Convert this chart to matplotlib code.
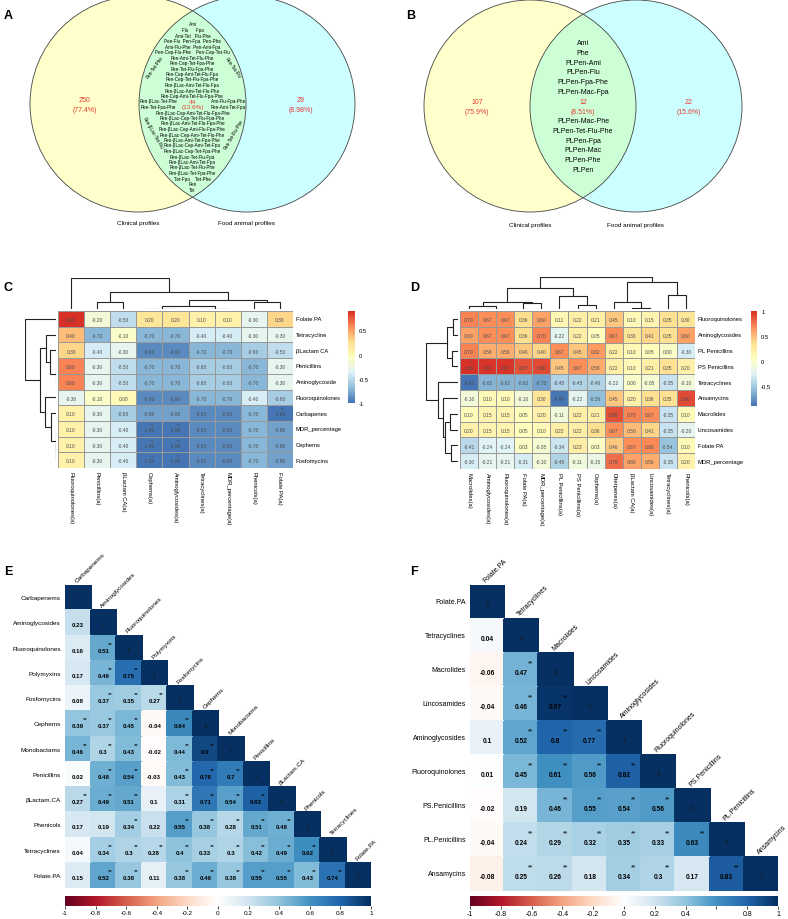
#!/usr/bin/env python3
"""Six-panel figure: two Venn diagrams, two clustered heatmaps, two corrplots."""

import numpy as np
import matplotlib

matplotlib.use("Agg")
import matplotlib.pyplot as plt
from matplotlib.colors import LinearSegmentedColormap, ListedColormap
from matplotlib.patches import Circle

plt.rcParams["font.family"] = ["Liberation Sans", "DejaVu Sans"]

# ---------------------------------------------------------------- data
venn_sets = ["Clinical profiles", "Food animal profiles"]
venn_a_counts = [250, 44, 29]
venn_b_counts = [107, 12, 22]

venn_a_upper = [
    "Ami", "Flu      Fpa", "Ami-Tet   Flu-Phe", "Pen-Flu  Pen-Fpa  Pen-Phe",
    "Ami-Flu-Phe  Pen-Ami-Fpa", "Pen-Cep-Flu-Phe    Pen-Cep-Tet-Flu",
    "Pen-Ami-Tet-Flu-Phe", "Pen-Cep-Tet-Fpa-Phe", "Pen-Tet-Flu-Fpa-Phe",
    "Pen-Cep-Ami-Tet-Flu-Fpa", "Pen-Cep-Tet-Flu-Fpa-Phe",
    "Pen-βLac-Ami-Tet-Flu-Fpa", "Pen-βLac-Ami-Tet-Flu-Phe",
    "Pen-Cep-Ami-Tet-Flu-Fpa-Phe",
]
venn_a_beside = [("Pen-βLac-Tet-Phe", "Ami-Flu-Fpa-Phe"),
                 ("Pen-Tet-Fpa-Phe", "Pen-Ami-Tet-Fpa")]
venn_a_lower = [
    "Pen-βLac-Cep-Ami-Tet-Flu-Fpa-Phe", "Pen-βLac-Cep-Tet-Flu-Fpa-Phe",
    "Pen-βLac-Ami-Tet-Flu-Fpa-Phe", "Pen-βLac-Cep-Ami-Flu-Fpa-Phe",
    "Pen-βLac-Cep-Ami-Tet-Flu-Phe", "Pen-βLac-Ami-Tet-Fpa-Phe",
    "Pen-βLac-Cep-Ami-Tet-Fpa", "Pen-βLac-Cep-Tet-Fpa-Phe",
    "Pen-βLac-Tet-Flu-Fpa", "Pen-βLac-Ami-Tet-Fpa", "Pen-βLac-Tet-Flu-Phe",
    "Pen-βLac-Tet-Fpa-Phe", "Tet-Fpa    Tet-Phe", "Pen", "Tet",
]
venn_a_rim = ["Pen-Tet-Phe", "Pen-Tet-Flu", "Pen-βLac-Tet-Flu", "Pen-Tet-Flu-Phe"]
venn_b_upper = ["Ami", "Phe", "PLPen-Ami", "PLPen-Flu", "PLPen-Fpa-Phe", "PLPen-Mac-Fpa"]
venn_b_lower = ["PLPen-Mac-Phe", "PLPen-Tet-Flu-Phe", "PLPen-Fpa", "PLPen-Mac",
                "PLPen-Phe", "PLPen"]

# panel C heatmap
c_rows = ["Folate PA", "Tetracycline", "βLactam CA", "Penicillins", "Aminoglycoside",
          "Fluoroquinolones", "Carbapenes", "MDR_percentage", "Cephems", "Fosfomycins"]
c_cols = ["Fluoroquinolones(a)", "Penicillins(a)", "βLactam CA(a)", "Cephems(a)",
          "Aminoglycosides(a)", "Tetracyclines(a)", "MDR_percentage(a)", "Phenicols(a)",
          "Folate PA(a)"]
c_values = [
    [0.90, -0.20, -0.50, 0.20, 0.20, 0.10, 0.10, -0.30, 0.30],
    [0.40, -0.70, -0.10, -0.70, -0.70, -0.40, -0.40, -0.30, -0.30],
    [0.30, -0.40, -0.30, -0.90, -0.90, -0.70, -0.70, -0.60, -0.50],
    [0.60, -0.30, -0.50, -0.70, -0.70, -0.60, -0.60, -0.70, -0.30],
    [0.60, -0.30, -0.50, -0.70, -0.70, -0.60, -0.60, -0.70, -0.30],
    [-0.30, -0.10, 0.00, -0.90, -0.90, -0.70, -0.70, -0.40, -0.60],
    [0.10, -0.30, -0.60, -0.80, -0.80, -0.90, -0.90, -0.70, -1.00],
    [0.10, -0.30, -0.40, -1.00, -1.00, -0.90, -0.90, -0.70, -0.80],
    [0.10, -0.30, -0.40, -1.00, -1.00, -0.90, -0.90, -0.70, -0.80],
    [0.10, -0.30, -0.40, -1.00, -1.00, -0.90, -0.90, -0.70, -0.80],
]
c_stars = [(6, 8), (7, 3), (7, 4), (8, 3), (8, 4), (9, 3), (9, 4)]
# dendrograms: (child a, child b, merge height in px)
c_col_tree = [(3, 4, 0), (5, 6, 0), (9, 10, 3.3), (7, 8, 7.3), (11, 12, 8.7),
              (1, 2, 6.7), (14, 13, 16.7), (0, 15, 31)]
c_row_tree = [(8, 9, 0), (7, 10, 0), (6, 11, 5.3), (5, 12, 11.3), (3, 4, 0),
              (2, 14, 5.7), (1, 15, 10.3), (16, 13, 16.3), (0, 17, 31)]

# panel D heatmap
d_rows = ["Fluoroquinolones", "Aminoglycosides", "PL Penicillins", "PS Penicillins",
          "Tetracyclines", "Ansamycins", "Macrolides", "Lincosamides", "Folate PA",
          "MDR_percentage"]
d_cols = ["Macrolides(a)", "Aminoglycosides(a)", "Fluoroquinolones(a)", "Folate PA(a)",
          "MDR_percentage(a)", "PL Penicillins(a)", "PS Penicillins(a)", "Cephems(a)",
          "Diterpenes(a)", "βLactam CA(a)", "Lincosamides(a)", "Tetracyclines(a)",
          "Phenicols(a)"]
d_values = [
    [0.70, 0.67, 0.67, 0.36, 0.60, 0.11, 0.22, 0.21, 0.45, 0.10, 0.15, 0.35, 0.30],
    [0.60, 0.67, 0.67, 0.36, 0.70, -0.22, 0.22, 0.05, 0.67, 0.30, 0.41, 0.35, 0.60],
    [0.70, 0.56, 0.56, 0.46, 0.40, 0.67, 0.45, 0.62, 0.22, 0.10, 0.05, 0.00, -0.30],
    [1.00, 0.97, 0.97, 0.87, 0.90, 0.45, 0.67, 0.56, 0.22, 0.10, 0.21, 0.35, 0.20],
    [-0.90, -0.62, -0.62, -0.62, -0.70, -0.45, -0.45, -0.46, -0.22, 0.00, -0.05, -0.35, -0.10],
    [-0.10, 0.10, 0.10, -0.10, 0.30, -0.89, -0.22, -0.56, 0.45, 0.20, 0.36, 0.35, 0.90],
    [0.10, 0.15, 0.15, 0.05, 0.20, -0.11, 0.22, 0.21, 0.88, 0.70, 0.67, -0.35, 0.10],
    [0.20, 0.15, 0.15, 0.05, 0.10, 0.22, 0.22, 0.36, 0.67, 0.50, 0.41, -0.35, -0.20],
    [-0.41, -0.24, -0.24, 0.03, -0.05, -0.34, 0.23, 0.03, 0.46, 0.67, 0.68, -0.54, 0.10],
    [-0.30, -0.21, -0.21, -0.31, -0.10, -0.45, -0.11, -0.15, 0.78, 0.60, 0.56, -0.35, 0.20],
]
d_stars = [(3, 0)]
d_col_tree = [(1, 2, 0), (0, 13, 3.3), (3, 4, 6), (14, 15, 7.3), (6, 7, 4.3),
              (5, 17, 13.3), (16, 18, 20.7), (9, 10, 1.3), (8, 20, 7.3),
              (11, 12, 14), (21, 22, 27.3), (19, 23, 31.7)]
d_row_tree = [(0, 1, 5), (2, 3, 6), (10, 11, 11), (6, 7, 8), (8, 9, 7),
              (13, 14, 13), (5, 15, 15), (4, 16, 20), (12, 17, 32)]

# panel E corrplot (lower triangle, row by row)
e_labels = ["Carbapenems", "Aminoglycosides", "Fluoroquinolones", "Polymyxins",
            "Fosfomycins", "Cephems", "Monobactams", "Penicillins", "βLactam.CA",
            "Phenicols", "Tetracyclines", "Folate.PA"]
e_lower = [
    [],
    [0.23],
    [0.16, 0.51],
    [0.17, 0.46, 0.75],
    [0.08, 0.37, 0.35, 0.27],
    [0.39, 0.37, 0.45, -0.04, 0.64],
    [0.46, 0.3, 0.43, -0.02, 0.44, 0.9],
    [0.02, 0.48, 0.54, -0.03, 0.43, 0.78, 0.7],
    [0.27, 0.49, 0.51, 0.1, 0.31, 0.71, 0.54, 0.82],
    [0.17, 0.19, 0.34, 0.22, 0.55, 0.38, 0.28, 0.51, 0.48],
    [0.04, 0.34, 0.3, 0.28, 0.4, 0.33, 0.3, 0.42, 0.49, 0.62],
    [0.15, 0.52, 0.38, 0.11, 0.38, 0.49, 0.38, 0.55, 0.55, 0.43, 0.74],
]
e_sig = [
    [],
    [0],
    [0, 1],
    [0, 1, 1],
    [0, 1, 1, 1],
    [1, 1, 1, 0, 1],
    [1, 1, 1, 0, 1, 1],
    [0, 1, 1, 0, 1, 1, 1],
    [1, 1, 1, 0, 1, 1, 1, 1],
    [0, 0, 1, 0, 1, 1, 1, 1, 1],
    [0, 1, 1, 1, 1, 1, 1, 1, 1, 1],
    [0, 1, 1, 0, 1, 1, 1, 1, 1, 1, 1],
]

# panel F corrplot
f_labels = ["Folate.PA", "Tetracyclines", "Macrolides", "Lincosamides",
            "Aminoglycosides", "Fluoroquinolones", "PS.Penicillins", "PL.Penicillins",
            "Ansamycins"]
f_lower = [
    [],
    [0.04],
    [-0.06, 0.47],
    [-0.04, 0.46, 0.97],
    [0.1, 0.52, 0.8, 0.77],
    [0.01, 0.45, 0.61, 0.56, 0.82],
    [-0.02, 0.19, 0.46, 0.55, 0.54, 0.56],
    [-0.04, 0.24, 0.29, 0.32, 0.35, 0.33, 0.63],
    [-0.08, 0.25, 0.26, 0.18, 0.34, 0.3, 0.17, 0.83],
]
f_sig = [
    [],
    [0],
    [0, 1],
    [0, 1, 1],
    [0, 1, 1, 1],
    [0, 1, 1, 1, 1],
    [0, 0, 1, 1, 1, 1],
    [0, 1, 1, 1, 1, 1, 1],
    [0, 1, 1, 0, 1, 1, 0, 1],
]

cbar_ticks = [-1, -0.8, -0.6, -0.4, -0.2, 0, 0.2, 0.4, 0.6, 0.8, 1]

# ---------------------------------------------------------------- style
W, H = 788, 920
RED = "#e53935"
PH_CMAP = ListedColormap(LinearSegmentedColormap.from_list(
    "ph", ["#4575B4", "#91BFDB", "#E0F3F8", "#FFFFBF", "#FEE090", "#FC8D59", "#D73027"]
)(np.linspace(0, 1, 100)))
RDBU = LinearSegmentedColormap.from_list(
    "rdbu", ["#67001F", "#B2182B", "#D6604D", "#F4A582", "#FDDBC7", "#FFFFFF",
             "#D1E5F0", "#92C5DE", "#4393C3", "#2166AC", "#053061"], N=200)

fig = plt.figure(figsize=(W / 100, H / 100), dpi=100)
base = fig.add_axes([0, 0, 1, 1])
base.set_xlim(0, W)
base.set_ylim(H, 0)
base.axis("off")


def px_axes(x0, y0, x1, y1):
    """Axes placed by pixel box (top-left origin)."""
    return fig.add_axes([x0 / W, 1 - y1 / H, (x1 - x0) / W, (y1 - y0) / H])


def pct(c, total):
    return f"({c / total * 100:.3g}%)"


def draw_venn(cx1, cx2, cy, r, counts):
    base.add_patch(Circle((cx1, cy), r, facecolor="yellow", alpha=0.2, lw=0))
    base.add_patch(Circle((cx2, cy), r, facecolor="cyan", alpha=0.2, lw=0))
    for cx in (cx1, cx2):
        base.add_patch(Circle((cx, cy), r, fill=False, edgecolor="#444444", lw=0.6))
    total = sum(counts)
    mid = (cx1 + cx2) / 2
    sides = [(cx1 - r + cx2 - r) / 2, (cx1 + r + cx2 + r) / 2]
    for x, c in zip(sides, [counts[0], counts[2]]):
        base.text(x, cy - 5, str(c), color=RED, fontsize=5, ha="center", va="center")
        base.text(x, cy + 5, pct(c, total), color=RED, fontsize=5, ha="center", va="center")
    base.text(cx1, cy + 118, venn_sets[0], fontsize=4.6, ha="center", va="center")
    base.text(cx2, cy + 118, venn_sets[1], fontsize=4.6, ha="center", va="center")
    return mid, total


# ---- panel A
mid, total = draw_venn(138, 247, 105, 108, venn_a_counts)
step = 5.5
fs = 3.3
y = 25 - step
for line in venn_a_upper:
    y += step
    base.text(mid, y, line, fontsize=fs, ha="center", va="center")
count_text = [str(venn_a_counts[1]), pct(venn_a_counts[1], total)]
for (left, right), ctext in zip(venn_a_beside, count_text):
    y += step
    base.text(mid - 34, y, left, fontsize=fs, ha="center", va="center")
    base.text(mid + 36, y, right, fontsize=fs, ha="center", va="center")
    base.text(mid, y, ctext, color=RED, fontsize=4.6, ha="center", va="center")
for line in venn_a_lower:
    y += step
    base.text(mid, y, line, fontsize=fs, ha="center", va="center")
for (dx, dy, rot), txt in zip([(-38, -37, 55), (40, -37, -55), (-40, 28, -60),
                               (41, 30, 60)], venn_a_rim):
    base.text(mid + dx, 105 + dy, txt, fontsize=fs, rotation=rot,
              ha="center", va="center")

# ---- panel B
mid, total = draw_venn(530, 636, 107, 106, venn_b_counts)
step = 9.7
y = 107 - 5 - (len(venn_b_upper) + 1) * step
for line in venn_b_upper:
    y += step
    base.text(mid, y, line, fontsize=5, ha="center", va="center")
base.text(mid, 102, str(venn_b_counts[1]), color=RED, fontsize=5, ha="center", va="center")
base.text(mid, 112, pct(venn_b_counts[1], total), color=RED, fontsize=5,
          ha="center", va="center")
y = 112
for line in venn_b_lower:
    y += step
    base.text(mid, y, line, fontsize=5, ha="center", va="center")


# ---------------------------------------------------------------- heatmaps
def draw_tree(ax, merges, n, orient):
    pos = {i: i + 0.5 for i in range(n)}
    hgt = {i: 0.0 for i in range(n)}
    for k, (a, b, h) in enumerate(merges):
        xs = [pos[a], pos[a], pos[b], pos[b]]
        ys = [hgt[a], h, h, hgt[b]]
        if orient == "top":
            ax.plot(xs, ys, color="#222222", lw=0.8, solid_capstyle="butt")
        else:
            ax.plot(ys, xs, color="#222222", lw=0.8, solid_capstyle="butt")
        pos[n + k] = (pos[a] + pos[b]) / 2
        hgt[n + k] = h


def pheatmap_panel(box, values, rows, cols, stars, row_tree, col_tree, cbar_box):
    x0, y0, x1, y1 = box
    vals = np.array(values)
    nr, nc = vals.shape
    vmin, vmax = vals.min(), vals.max()
    ax = px_axes(x0, y0, x1, y1)
    ax.pcolormesh(vals, cmap=PH_CMAP, vmin=vmin, vmax=vmax,
                  edgecolors="#999999", linewidth=0.6)
    ax.set_xlim(0, nc)
    ax.set_ylim(nr, 0)
    ax.axis("off")
    for i in range(nr):
        for j in range(nc):
            ax.text(j + 0.5, i + 0.55, f"{vals[i, j]:.2f}", ha="center", va="center",
                    fontsize=3.5, color="#4d4d4d")
    for i, j in stars:
        ax.text(j + 0.62, i + 0.22, "**", ha="center", va="center", fontsize=3.3,
                color="#4d4d4d")
    for i, lab in enumerate(rows):
        ax.annotate(lab, (nc, i + 0.5), xytext=(3, 0), textcoords="offset pixels",
                    ha="left", va="center", fontsize=4.2, annotation_clip=False)
    for j, lab in enumerate(cols):
        ax.annotate(lab, (j + 0.5, nr), xytext=(0, -3), textcoords="offset pixels",
                    ha="center", va="top", rotation=270, fontsize=4.2,
                    annotation_clip=False)

    top_h = max(m[2] for m in col_tree)
    tax = px_axes(x0, y0 - 2 - top_h, x1, y0 - 2)
    draw_tree(tax, col_tree, nc, "top")
    tax.set_xlim(0, nc)
    tax.set_ylim(0, top_h)
    tax.axis("off")

    left_w = max(m[2] for m in row_tree)
    lax = px_axes(x0 - 2 - left_w, y0, x0 - 2, y1)
    draw_tree(lax, row_tree, nr, "left")
    lax.set_ylim(nr, 0)
    lax.set_xlim(left_w, 0)
    lax.axis("off")

    cx0, cy0, cx1, cy1 = cbar_box
    cax = px_axes(cx0, cy0, cx1, cy1)
    grad = np.linspace(vmax, vmin, 200)[:, None]
    cax.imshow(grad, aspect="auto", cmap=PH_CMAP, vmin=vmin, vmax=vmax,
               extent=(0, 1, vmin, vmax))
    cax.set_xticks([])
    ticks = [t for t in [1, 0.5, 0, -0.5, -1] if vmin - 1e-9 <= t <= vmax + 1e-9]
    cax.set_yticks(ticks)
    cax.set_yticklabels([f"{t:g}" for t in ticks], fontsize=4.2)
    cax.yaxis.tick_right()
    cax.tick_params(axis="y", length=0, pad=3)
    for s in cax.spines.values():
        s.set_visible(False)


pheatmap_panel((58, 312, 293, 469), c_values, c_rows, c_cols, c_stars,
               c_row_tree, c_col_tree, (348, 312, 355, 404))
pheatmap_panel((460, 312, 695, 470), d_values, d_rows, d_cols, d_stars,
               d_row_tree, d_col_tree, (751, 312, 757, 407))


# ---------------------------------------------------------------- corrplots
def corrplot_panel(box, labels, lower, sig, fs_lab, fs_num, skip_labels=()):
    x0, y0, x1, y1 = box
    n = len(labels)
    mat = np.full((n, n), np.nan)
    for i, row in enumerate(lower):
        mat[i, :len(row)] = row
        mat[i, i] = 1.0
    ax = px_axes(x0, y0, x1, y1)
    ax.pcolormesh(np.ma.masked_invalid(mat), cmap=RDBU, vmin=-1, vmax=1,
                  edgecolors="face", linewidth=0.2)
    ax.set_xlim(0, n)
    ax.set_ylim(n, 0)
    ax.axis("off")
    for i, row in enumerate(lower):
        for j, v in enumerate(row):
            ax.text(j + 0.5, i + 0.58, f"{v:g}", ha="center", va="center",
                    fontsize=fs_num, fontweight="bold", color="black")
            if sig[i][j]:
                ax.text(j + 0.78, i + 0.3, "**", ha="center", va="center",
                        fontsize=fs_num, color="black")
        ax.text(i + 0.5, i + 0.55, "1", ha="center", va="center",
                fontsize=fs_num, color="#1a1a1a")
    for i, lab in enumerate(labels):
        ax.annotate(lab, (0, i + 0.5), xytext=(-4, 0), textcoords="offset pixels",
                    ha="right", va="center", fontsize=fs_lab, annotation_clip=False)
        ax.annotate(lab, (i + 0.5, i), xytext=(0, 2), textcoords="offset pixels",
                    ha="left", va="bottom", rotation=45, rotation_mode="anchor",
                    fontsize=fs_lab, annotation_clip=False)

    cax = px_axes(x0, 897, x1, 907)
    cax.imshow(np.linspace(-1, 1, 400)[None, :], aspect="auto", cmap=RDBU,
               vmin=-1, vmax=1, extent=(-1, 1, 0, 1))
    cax.set_yticks([])
    cax.set_xticks(cbar_ticks)
    cax.set_xticklabels(["" if t in skip_labels else f"{t:g}" for t in cbar_ticks],
                        fontsize=fs_lab)
    cax.tick_params(axis="x", length=2, width=0.5, pad=1)
    for s in cax.spines.values():
        s.set_visible(False)


corrplot_panel((65, 586, 371, 889), e_labels, e_lower, e_sig, 4.6, 4.4)
corrplot_panel((470, 586, 778, 892), f_labels, f_lower, f_sig, 5.0, 4.8,
               skip_labels=(0.6,))

# ---------------------------------------------------------------- panel letters
for letter, (x, y) in zip("ABCDEF", [(4, 16), (406, 16), (4, 288), (410, 288),
                                      (4, 572), (410, 572)]):
    base.text(x, y, letter, fontsize=9, fontweight="bold", ha="left", va="center")

fig.savefig("out.png", dpi=100)
